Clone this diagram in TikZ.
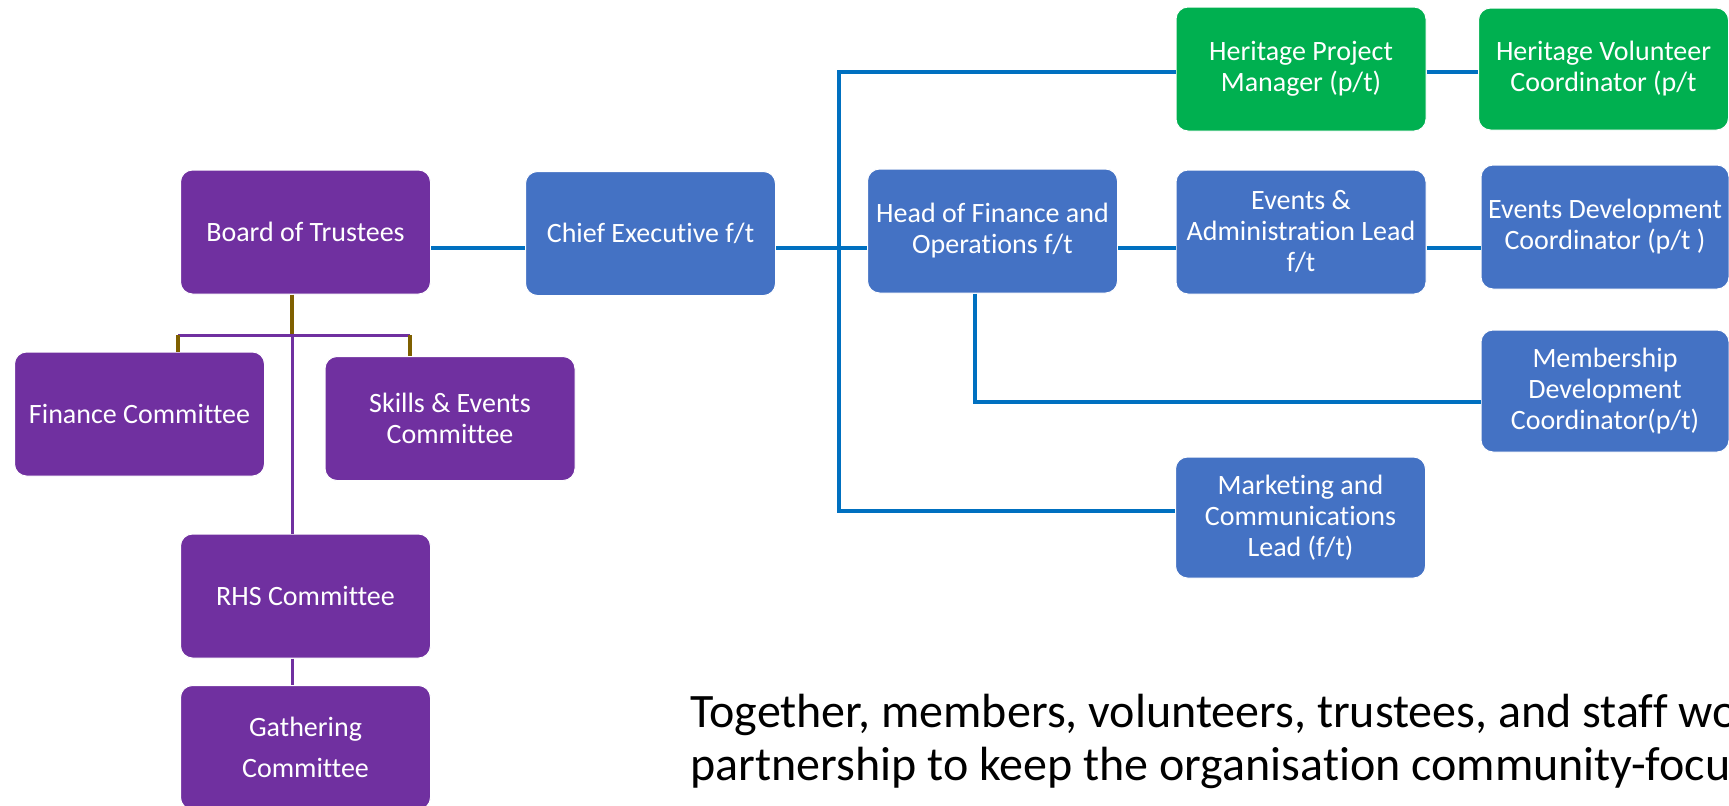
\documentclass[tikz,border=0pt]{standalone}
\usepackage{fontspec}
\setmainfont{Carlito}[Ligatures=NoCommon]
\definecolor{boardpurple}{HTML}{7030A0}
\definecolor{staffblue}{HTML}{4472C4}
\definecolor{heritagegreen}{HTML}{00B050}
\definecolor{linkblue}{HTML}{0070C0}
\definecolor{linkbrown}{HTML}{7F6000}
\tikzset{
  unitbox/.style={rectangle, rounded corners=6pt, draw=white, line width=0.5pt,
    text=white, align=center, minimum width=125pt, minimum height=62pt,
    inner xsep=0pt, inner ysep=2pt, font=\fontsize{14}{15.5}\selectfont},
  trustbox/.style={unitbox, fill=boardpurple},
  staffbox/.style={unitbox, fill=staffblue},
  heritbox/.style={unitbox, fill=heritagegreen},
  staffline/.style={draw=linkblue, line width=2pt},
  trustline/.style={draw=boardpurple, line width=1.5pt},
  stemline/.style={draw=linkbrown, line width=1.75pt},
  closing/.style={anchor=base west, inner sep=0pt, text=black,
    font=\fontsize{24}{26}\selectfont},
}

\begin{document}
\begin{tikzpicture}[x=0.5pt,y=-0.5pt]
\useasboundingbox (0,0) rectangle (1729,805);
\fill[white] (0,0) rectangle (1729,805);
\clip (0,0) rectangle (1729,805);
% Drawing boxes
% Trustees and committees
\node[trustbox] (board) at (305.5,232) {Board of Trustees};
\node[trustbox] (finance) at (139.5,414) {Finance Committee};
\node[trustbox] (skills) at (450,418.5) {Skills \& Events\\Committee};
\node[trustbox] (rhs) at (305.5,596) {RHS Committee};
\node[trustbox] (gathering) at (305.5,747.5) {Gathering\\[5pt]Committee};
% Staff
\node[staffbox] (chief) at (650.5,233.5) {Chief Executive f/t};
\node[staffbox] (head) at (992.5,231) {Head of Finance and\\Operations f/t};
\node[staffbox] (evadmin) at (1301,232) {Events \&\\Administration Lead\\f/t};
\node[staffbox, minimum width=124pt] (evdev) at (1605,227) {Events Development\\Coordinator (p/t )};
\node[staffbox, minimum width=124pt, minimum height=61pt] (membership) at (1605,391) {Membership\\Development\\Coordinator(p/t)};
\node[staffbox, minimum height=60.5pt] (marketing) at (1300.5,517.5) {Marketing and\\Communications\\Lead (f/t)};
\node[heritbox] (herpm) at (1301,69) {Heritage Project\\Manager (p/t)};
\node[heritbox, minimum height=61pt] (hervol) at (1603.5,69) {Heritage Volunteer\\Coordinator (p/t};
% Done with boxes; drawing connectors
\coordinate (spine) at (0,248);
\coordinate (trunktop) at (839,72);
\coordinate (trunkbot) at (839,511);
\coordinate (memturn) at (975,402);
\coordinate (fork) at (292,335);
\coordinate (forkL) at (178,335);
\coordinate (forkR) at (410,335);
\draw[staffline] (board.east |- spine) -- (chief.west |- spine);
\draw[staffline] (chief.east |- spine) -- (head.west |- spine);
\draw[staffline] (head.east |- spine) -- (evadmin.west |- spine);
\draw[staffline] (evadmin.east |- spine) -- (evdev.west |- spine);
\draw[staffline] (herpm.west |- trunktop) -- (trunktop) -- (trunkbot) -- (marketing.west |- trunkbot);
\draw[staffline] (herpm.east |- trunktop) -- (hervol.west |- trunktop);
\draw[staffline] (head.south -| memturn) -- (memturn) -- (membership.west |- memturn);
% Committee links
\draw[stemline] (board.south -| fork) -- (fork);
\draw[trustline] (forkL) -- (forkR);
\draw[stemline] (forkL) -- (finance.north -| forkL);
\draw[stemline] (forkR) -- (skills.north -| forkR);
\draw[trustline] (fork) -- (rhs.north -| fork);
\draw[trustline] (rhs.south -| fork) -- (gathering.north -| fork);
% Done with connectors; drawing closing text
\node[closing] (together) at (690,727) {Together, members, volunteers, trustees, and staff wo};
\node[closing] (partner) at (690,780) {partnership to keep the organisation community-focu};
\end{tikzpicture}
\end{document}
